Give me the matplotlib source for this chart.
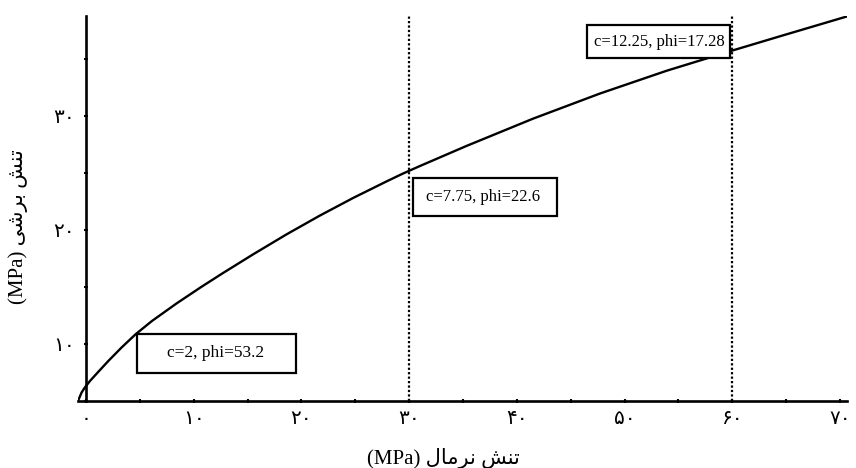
import matplotlib
matplotlib.use('Agg')
import matplotlib.pyplot as plt
from matplotlib.patches import Rectangle
from matplotlib.ticker import MultipleLocator

# failure envelope (normal stress vs shear stress, MPa)
normal_stress = [-0.75, -0.41, -0.1, 0.36, 1.13, 2.06, 3.31, 4.6, 6.1, 8.4,
                 10.7, 12.6, 15.5, 18.6, 21.7, 24.8, 27.9, 29.45, 31.0, 35.3,
                 41.5, 47.7, 53.9, 60.1, 64.7, 70.6]
shear_stress = [5.0, 5.75, 6.2, 6.75, 7.55, 8.5, 9.7, 10.85, 12.0, 13.55,
                15.0, 16.15, 17.85, 19.6, 21.25, 22.8, 24.25, 24.95, 25.6, 27.35,
                29.75, 31.95, 33.95, 35.75, 37.05, 38.7]

# boundaries between the three fitted ranges
split_points = [30, 60]
box_labels = ['c=2, phi=53.2', 'c=7.75, phi=22.6', 'c=12.25, phi=17.28']

x_ticks = [0, 10, 20, 30, 40, 50, 60, 70]
x_ticklabels = ['۰', '۱۰', '۲۰', '۳۰', '۴۰', '۵۰', '۶۰', '۷۰']
y_ticks = [10, 20, 30]
y_ticklabels = ['۱۰', '۲۰', '۳۰']

# persian labels written in presentation forms, visual order (no shaping in mpl)
xlabel = '(MPa) \uFEDD\uFE8E\uFEE3\uFEAE\uFEE7 \uFEB6\uFEE8\uFE97'
ylabel = '(MPa) \uFBFD\uFEB7\uFEAE\uFE91 \uFEB6\uFEE8\uFE97'

plt.rcParams['font.family'] = ['Liberation Serif', 'DejaVu Sans']

fig = plt.figure(figsize=(8.56, 4.68), dpi=100)
ax = fig.add_axes([0.0911, 0.1432, 0.8984, 0.8226])

ax.plot(normal_stress, shear_stress, color='black', lw=1.7, zorder=2,
        solid_joinstyle='round')
for xs in split_points:
    ax.axvline(xs, color='black', ls=(0, (1, 1)), lw=1.6, zorder=1)

# annotation boxes (x0, y0, width, height) in data units
boxes = [(4.73, 7.47, 14.76, 3.4), (30.35, 21.18, 13.37, 3.41), (46.51, 35.07, 13.27, 2.88)]
centers = [(12.06, 9.2), (36.9, 22.9), (53.2, 36.5)]
sizes = [12.5, 12, 12]
for (x0, y0, w, h), (cx, cy), lab, fs in zip(boxes, centers, box_labels, sizes):
    ax.add_patch(Rectangle((x0, y0), w, h, facecolor='white', edgecolor='black',
                           lw=1.6, zorder=3))
    ax.text(cx, cy, lab, ha='center', va='center', fontsize=fs, zorder=4)

ax.set_xlim(-0.75, 70.65)
ax.set_ylim(5, 38.75)

ax.spines['top'].set_visible(False)
ax.spines['right'].set_visible(False)
ax.spines['left'].set_position(('data', 0))
ax.spines['left'].set_linewidth(1.9)
ax.spines['bottom'].set_linewidth(1.9)

ax.set_xticks(x_ticks)
ax.set_xticklabels(x_ticklabels)
ax.set_yticks(y_ticks)
ax.set_yticklabels(y_ticklabels)
ax.xaxis.set_minor_locator(MultipleLocator(5))
ax.yaxis.set_minor_locator(MultipleLocator(5))
ax.tick_params(which='both', direction='inout', length=3.5, width=1.5, labelsize=14.5)
ax.tick_params(axis='x', pad=5)
ax.tick_params(axis='y', pad=6)

fig.text(0.5175, 0.021, xlabel, ha='center', va='center', fontsize=15)
fig.text(0.021, 0.516, ylabel, ha='center', va='center', fontsize=15, rotation=90)

fig.savefig('out.png', dpi=100)
